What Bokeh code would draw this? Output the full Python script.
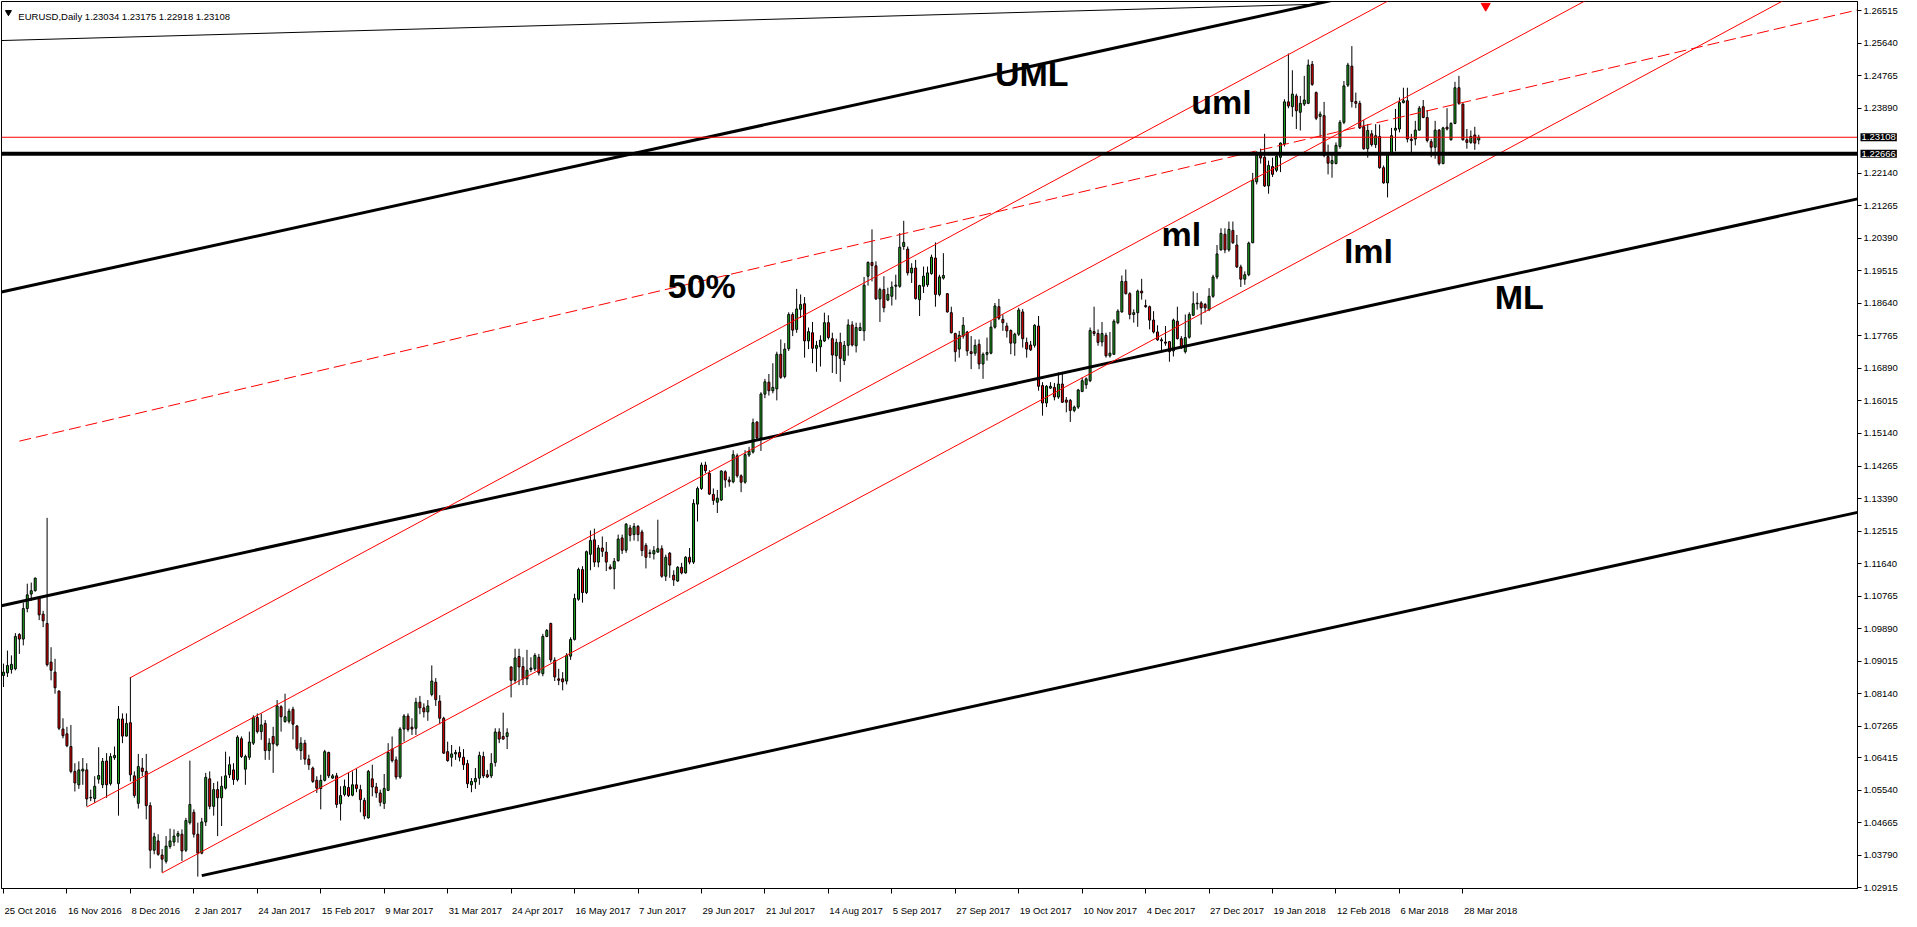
from bokeh.plotting import figure
from bokeh.models import Range1d, FixedTicker, PrintfTickFormatter, Label, LinearAxis, ColumnDataSource
from bokeh.core.properties import value
from bokeh.embed import file_html
from bokeh.resources import INLINE

# ---------------- data (EURUSD daily, bar index 0 = 25 Oct 2016) ----------------
opens = [1.0863,1.0870,1.0879,1.0881,1.0973,1.0961,1.1043,1.1082,1.1091,1.1071,
 1.1028,1.1003,1.0899,1.0872,1.0821,1.0719,1.0706,1.0672,1.0605,1.0569,
 1.0606,1.0609,1.0534,1.0532,1.0584,1.0569,1.0633,1.0572,1.0642,1.0572,
 1.0746,1.0700,1.0736,1.0593,1.0519,1.0614,1.0605,1.0513,1.0393,1.0418,
 1.0380,1.0363,1.0403,1.0415,1.0431,1.0436,1.0393,1.0467,1.0495,1.0436,
 1.0385,1.0469,1.0585,1.0511,1.0556,1.0534,1.0560,1.0596,1.0609,1.0583,
 1.0693,1.0611,1.0643,1.0681,1.0750,1.0712,1.0734,1.0661,1.0699,1.0676,
 1.0779,1.0739,1.0740,1.0772,1.0727,1.0661,1.0681,1.0638,1.0614,1.0581,
 1.0559,1.0581,1.0656,1.0587,1.0593,1.0518,1.0543,1.0562,1.0541,1.0569,
 1.0556,1.0527,1.0480,1.0585,1.0563,1.0547,1.0519,1.0554,1.0665,1.0636,
 1.0590,1.0719,1.0754,1.0724,1.0721,1.0791,1.0776,1.0765,1.0812,1.0845,
 1.0794,1.0748,1.0658,1.0643,1.0652,1.0656,1.0643,1.0626,1.0569,1.0577,
 1.0587,1.0645,1.0596,1.0593,1.0629,1.0711,1.0699,1.0699,1.0886,1.0850,
 1.0914,1.0887,1.0854,1.0879,1.0881,1.0912,1.0868,1.0968,1.1003,1.0904,
 1.0854,1.0854,1.0848,1.0915,1.0960,1.1068,1.1148,1.1086,1.1189,1.1228,
 1.1168,1.1206,1.1195,1.1155,1.1150,1.1172,1.1233,1.1200,1.1260,1.1242,
 1.1264,1.1249,1.1213,1.1191,1.1190,1.1195,1.1204,1.1130,1.1192,1.1133,
 1.1117,1.1154,1.1139,1.1181,1.1168,1.1324,1.1366,1.1429,1.1407,1.1350,
 1.1329,1.1335,1.1411,1.1389,1.1384,1.1454,1.1400,1.1383,1.1456,1.1464,
 1.1545,1.1502,1.1620,1.1652,1.1629,1.1634,1.1727,1.1667,1.1742,1.1834,
 1.1794,1.1848,1.1863,1.1763,1.1785,1.1743,1.1747,1.1763,1.1812,1.1769,
 1.1723,1.1759,1.1710,1.1751,1.1806,1.1750,1.1791,1.1790,1.1937,1.1974,
 1.1965,1.1876,1.1901,1.1873,1.1883,1.1910,1.1910,1.2017,1.2010,1.1946,
 1.1959,1.1874,1.1910,1.1914,1.1944,1.1986,1.1888,1.1932,1.1890,1.1839,
 1.1783,1.1741,1.1776,1.1787,1.1734,1.1730,1.1754,1.1701,1.1727,1.1730,
 1.1800,1.1855,1.1821,1.1803,1.1791,1.1757,1.1781,1.1841,1.1759,1.1752,
 1.1751,1.1803,1.1643,1.1596,1.1636,1.1638,1.1612,1.1647,1.1604,1.1603,
 1.1576,1.1585,1.1627,1.1645,1.1656,1.1788,1.1783,1.1760,1.1778,1.1723,
 1.1727,1.1812,1.1841,1.1923,1.1890,1.1834,1.1839,1.1897,1.1858,1.1855,
 1.1819,1.1787,1.1766,1.1760,1.1761,1.1736,1.1816,1.1769,1.1734,1.1773,
 1.1832,1.1863,1.1865,1.1861,1.1847,1.1883,1.1935,1.2008,1.2050,1.2008,
 1.2060,1.2021,1.1962,1.1929,1.1941,1.2027,1.2191,1.2262,1.2257,1.2180,
 1.2232,1.2222,1.2257,1.2293,1.2406,1.2393,1.2422,1.2378,1.2400,1.2402,
 1.2507,1.2431,1.2367,1.2369,1.2259,1.2240,1.2240,1.2286,1.2351,1.2451,
 1.2502,1.2407,1.2402,1.2339,1.2280,1.2320,1.2291,1.2313,1.2229,1.2188,
 1.2266,1.2330,1.2333,1.2404,1.2409,1.2306,1.2306,1.2330,1.2393,1.2364,
 1.2299,1.2284,1.2330,1.2240,1.2338,1.2304,1.2348,1.2444,1.2400,1.2304,
 1.2297,1.2317,1.23034]

highs = [1.0895,1.0930,1.0917,1.0977,1.0977,1.1059,1.1110,1.1113,1.1126,1.1073,
 1.1037,1.1287,1.0939,1.0908,1.0823,1.0748,1.0725,1.0730,1.0627,1.0632,
 1.0641,1.0627,1.0556,1.0592,1.0670,1.0641,1.0654,1.0654,1.0672,1.0781,
 1.0761,1.0761,1.0859,1.0605,1.0652,1.0641,1.0652,1.0522,1.0440,1.0436,
 1.0396,1.0431,1.0451,1.0449,1.0445,1.0449,1.0480,1.0634,1.0503,1.0467,
 1.0480,1.0601,1.0605,1.0574,1.0578,1.0592,1.0658,1.0645,1.0627,1.0702,
 1.0699,1.0650,1.0712,1.0756,1.0761,1.0761,1.0743,1.0694,1.0725,1.0797,
 1.0783,1.0814,1.0774,1.0779,1.0730,1.0697,1.0690,1.0650,1.0618,1.0592,
 1.0596,1.0663,1.0658,1.0598,1.0601,1.0565,1.0583,1.0601,1.0605,1.0612,
 1.0569,1.0534,1.0609,1.0623,1.0574,1.0556,1.0598,1.0681,1.0699,1.0645,
 1.0724,1.0759,1.0761,1.0748,1.0803,1.0808,1.0788,1.0797,1.0890,1.0856,
 1.0810,1.0752,1.0685,1.0676,1.0663,1.0672,1.0665,1.0636,1.0587,1.0614,
 1.0658,1.0658,1.0609,1.0654,1.0721,1.0721,1.0763,1.0721,1.0887,1.0935,
 1.0935,1.0912,1.0932,1.0912,1.0923,1.0921,1.0975,1.0988,1.1005,1.0912,
 1.0881,1.0872,1.0923,1.0966,1.1083,1.1153,1.1157,1.1199,1.1253,1.1258,
 1.1214,1.1237,1.1222,1.1162,1.1179,1.1242,1.1242,1.1273,1.1268,1.1273,
 1.1268,1.1255,1.1219,1.1202,1.1211,1.1282,1.1213,1.1188,1.1195,1.1146,
 1.1157,1.1166,1.1184,1.1206,1.1337,1.1371,1.1436,1.1438,1.1415,1.1366,
 1.1362,1.1415,1.1415,1.1398,1.1469,1.1460,1.1404,1.1469,1.1478,1.1554,
 1.1546,1.1625,1.1661,1.1674,1.1703,1.1734,1.1767,1.1757,1.1840,1.1840,
 1.1903,1.1888,1.1881,1.1799,1.1814,1.1763,1.1778,1.1839,1.1832,1.1785,
 1.1769,1.1785,1.1763,1.1821,1.1816,1.1812,1.1812,1.1935,1.1977,1.2063,
 1.1977,1.1906,1.1937,1.1906,1.1923,1.1941,1.2053,1.2086,1.2017,1.1972,
 1.1981,1.1914,1.1963,1.1963,1.1995,1.2028,1.1941,1.1999,1.1892,1.1855,
 1.1785,1.1790,1.1827,1.1790,1.1776,1.1767,1.1767,1.1732,1.1772,1.1816,
 1.1865,1.1876,1.1834,1.1812,1.1794,1.1785,1.1852,1.1849,1.1772,1.1763,
 1.1808,1.1830,1.1652,1.1644,1.1652,1.1650,1.1678,1.1674,1.1612,1.1607,
 1.1589,1.1634,1.1665,1.1665,1.1799,1.1855,1.1794,1.1814,1.1785,1.1787,
 1.1821,1.1848,1.1939,1.1955,1.1894,1.1848,1.1901,1.1930,1.1874,1.1858,
 1.1843,1.1805,1.1772,1.1803,1.1763,1.1823,1.1855,1.1776,1.1834,1.1840,
 1.1896,1.1892,1.1870,1.1865,1.1905,1.1941,1.2021,1.2066,1.2066,1.2084,
 1.2084,1.2048,1.1968,1.1950,1.2030,1.2215,1.2273,1.2280,1.2320,1.2248,
 1.2256,1.2271,1.2297,1.2413,1.2536,1.2491,1.2428,1.2422,1.2476,1.2520,
 1.2516,1.2434,1.2380,1.2406,1.2291,1.2271,1.2297,1.2357,1.2462,1.2511,
 1.2556,1.2431,1.2409,1.2357,1.2346,1.2330,1.2346,1.2345,1.2235,1.2271,
 1.2336,1.2387,1.2418,1.2444,1.2444,1.2320,1.2355,1.2395,1.2411,1.2384,
 1.2306,1.2355,1.2333,1.2339,1.2389,1.2351,1.2460,1.2476,1.2402,1.2333,
 1.2329,1.2339,1.23175]

lows = [1.0832,1.0859,1.0868,1.0877,1.0921,1.0944,1.1033,1.1064,1.1089,1.1012,
 1.0993,1.0887,1.0850,1.0814,1.0716,1.0694,1.0670,1.0600,1.0551,1.0558,
 1.0569,1.0511,1.0525,1.0520,1.0572,1.0560,1.0534,1.0567,1.0636,1.0486,
 1.0681,1.0699,1.0578,1.0534,1.0505,1.0592,1.0476,1.0344,1.0382,1.0378,
 1.0333,1.0357,1.0397,1.0404,1.0413,1.0364,1.0388,1.0462,1.0427,1.0322,
 1.0382,1.0458,1.0503,1.0486,1.0431,1.0458,1.0556,1.0587,1.0569,1.0578,
 1.0641,1.0569,1.0636,1.0676,1.0707,1.0690,1.0636,1.0636,1.0601,1.0672,
 1.0712,1.0736,1.0734,1.0691,1.0661,1.0636,1.0623,1.0609,1.0574,1.0547,
 1.0503,1.0578,1.0587,1.0585,1.0507,1.0473,1.0538,1.0536,1.0538,1.0549,
 1.0495,1.0476,1.0478,1.0538,1.0534,1.0511,1.0504,1.0552,1.0629,1.0583,
 1.0585,1.0685,1.0712,1.0703,1.0703,1.0759,1.0750,1.0741,1.0807,1.0781,
 1.0732,1.0652,1.0631,1.0618,1.0636,1.0632,1.0609,1.0560,1.0549,1.0558,
 1.0569,1.0587,1.0587,1.0587,1.0618,1.0681,1.0690,1.0665,1.0804,1.0841,
 1.0837,1.0837,1.0837,1.0872,1.0875,1.0863,1.0861,1.0966,1.0898,1.0848,
 1.0837,1.0823,1.0839,1.0905,1.0957,1.1064,1.1059,1.1082,1.1146,1.1155,
 1.1154,1.1182,1.1144,1.1148,1.1095,1.1169,1.1190,1.1193,1.1224,1.1226,
 1.1224,1.1184,1.1151,1.1179,1.1175,1.1193,1.1126,1.1117,1.1126,1.1104,
 1.1115,1.1135,1.1137,1.1162,1.1163,1.1277,1.1362,1.1407,1.1349,1.1322,
 1.1300,1.1333,1.1368,1.1371,1.1380,1.1395,1.1356,1.1379,1.1451,1.1460,
 1.1498,1.1467,1.1609,1.1616,1.1622,1.1603,1.1661,1.1662,1.1736,1.1776,
 1.1785,1.1825,1.1718,1.1741,1.1703,1.1680,1.1694,1.1760,1.1767,1.1677,
 1.1674,1.1653,1.1698,1.1723,1.1748,1.1732,1.1790,1.1763,1.1912,1.1923,
 1.1873,1.1814,1.1840,1.1870,1.1858,1.1874,1.1906,1.2008,1.1939,1.1919,
 1.1874,1.1830,1.1892,1.1908,1.1941,1.1855,1.1883,1.1928,1.1839,1.1783,
 1.1707,1.1718,1.1769,1.1723,1.1687,1.1723,1.1687,1.1661,1.1710,1.1727,
 1.1796,1.1819,1.1790,1.1772,1.1727,1.1723,1.1776,1.1745,1.1718,1.1736,
 1.1745,1.1629,1.1562,1.1585,1.1634,1.1603,1.1607,1.1596,1.1571,1.1545,
 1.1571,1.1580,1.1625,1.1634,1.1652,1.1776,1.1750,1.1748,1.1718,1.1718,
 1.1725,1.1808,1.1839,1.1888,1.1821,1.1812,1.1801,1.1874,1.1852,1.1794,
 1.1783,1.1763,1.1732,1.1750,1.1707,1.1721,1.1767,1.1741,1.1729,1.1769,
 1.1830,1.1847,1.1807,1.1839,1.1843,1.1879,1.1929,1.2006,1.1999,1.2003,
 1.2024,1.1959,1.1908,1.1914,1.1937,1.2026,1.2184,1.2240,1.2177,1.2159,
 1.2204,1.2217,1.2217,1.2286,1.2389,1.2366,1.2333,1.2329,1.2395,1.2400,
 1.2449,1.2357,1.2311,1.2257,1.2211,1.2202,1.2238,1.2280,1.2346,1.2446,
 1.2391,1.2389,1.2333,1.2277,1.2256,1.2286,1.2282,1.2226,1.2186,1.2149,
 1.2264,1.2273,1.2324,1.2402,1.2297,1.2271,1.2289,1.2329,1.2362,1.2297,
 1.2257,1.2253,1.2235,1.2238,1.2329,1.2302,1.2346,1.2398,1.2302,1.2280,
 1.2293,1.2277,1.22918]

closes = [1.0872,1.0890,1.0893,1.0968,1.0961,1.1043,1.1080,1.1091,1.1125,1.1026,
 1.1010,1.0892,1.0877,1.0830,1.0721,1.0701,1.0674,1.0605,1.0574,1.0609,
 1.0611,1.0531,1.0535,1.0565,1.0594,1.0632,1.0569,1.0645,1.0648,1.0746,
 1.0700,1.0734,1.0596,1.0540,1.0618,1.0605,1.0513,1.0393,1.0429,1.0382,
 1.0369,1.0404,1.0418,1.0431,1.0438,1.0391,1.0473,1.0516,1.0436,1.0385,
 1.0469,1.0589,1.0511,1.0556,1.0534,1.0565,1.0593,1.0623,1.0583,1.0697,
 1.0645,1.0645,1.0684,1.0750,1.0712,1.0730,1.0661,1.0681,1.0679,1.0781,
 1.0752,1.0752,1.0767,1.0732,1.0667,1.0681,1.0638,1.0623,1.0578,1.0560,
 1.0581,1.0658,1.0593,1.0593,1.0516,1.0540,1.0565,1.0540,1.0569,1.0559,
 1.0529,1.0485,1.0605,1.0563,1.0547,1.0522,1.0559,1.0656,1.0634,1.0590,
 1.0719,1.0754,1.0718,1.0719,1.0791,1.0776,1.0765,1.0781,1.0848,1.0798,
 1.0748,1.0654,1.0634,1.0652,1.0656,1.0643,1.0623,1.0572,1.0578,1.0586,
 1.0648,1.0593,1.0590,1.0626,1.0711,1.0692,1.0692,1.0709,1.0850,1.0910,
 1.0886,1.0854,1.0877,1.0883,1.0917,1.0870,1.0968,1.0984,1.0905,1.0859,
 1.0850,1.0846,1.0917,1.0960,1.1070,1.1148,1.1086,1.1196,1.1226,1.1168,
 1.1206,1.1197,1.1168,1.1150,1.1170,1.1230,1.1200,1.1270,1.1240,1.1264,
 1.1242,1.1199,1.1181,1.1193,1.1199,1.1204,1.1130,1.1181,1.1160,1.1120,
 1.1154,1.1139,1.1181,1.1168,1.1326,1.1366,1.1429,1.1414,1.1351,1.1334,
 1.1340,1.1413,1.1389,1.1384,1.1457,1.1400,1.1383,1.1457,1.1466,1.1543,
 1.1502,1.1620,1.1653,1.1629,1.1638,1.1727,1.1665,1.1741,1.1834,1.1792,
 1.1849,1.1861,1.1763,1.1788,1.1743,1.1751,1.1765,1.1812,1.1772,1.1725,
 1.1759,1.1716,1.1751,1.1806,1.1752,1.1799,1.1799,1.1913,1.1974,1.1966,
 1.1876,1.1901,1.1852,1.1888,1.1908,1.1913,1.2015,1.2028,1.1946,1.1959,
 1.1877,1.1912,1.1937,1.1946,1.1988,1.1888,1.1935,1.1939,1.1841,1.1785,
 1.1734,1.1778,1.1805,1.1736,1.1729,1.1751,1.1701,1.1727,1.1732,1.1800,
 1.1857,1.1824,1.1812,1.1790,1.1757,1.1781,1.1846,1.1769,1.1741,1.1739,
 1.1805,1.1641,1.1596,1.1641,1.1641,1.1612,1.1647,1.1598,1.1598,1.1576,
 1.1585,1.1631,1.1656,1.1661,1.1791,1.1783,1.1759,1.1783,1.1723,1.1730,
 1.1816,1.1843,1.1923,1.1890,1.1834,1.1839,1.1897,1.1892,1.1855,1.1819,
 1.1787,1.1766,1.1763,1.1757,1.1734,1.1819,1.1769,1.1745,1.1772,1.1834,
 1.1863,1.1865,1.1852,1.1852,1.1883,1.1935,1.1997,1.2052,1.2008,1.2063,
 1.2027,1.1962,1.1929,1.1941,1.2026,1.2195,1.2262,1.2255,1.2180,1.2235,
 1.2211,1.2260,1.2295,1.2406,1.2395,1.2427,1.2382,1.2402,1.2411,1.2505,
 1.2453,1.2362,1.2373,1.2262,1.2241,1.2248,1.2289,1.2351,1.2449,1.2505,
 1.2407,1.2402,1.2336,1.2280,1.2329,1.2291,1.2315,1.2229,1.2188,1.2266,
 1.2315,1.2335,1.2404,1.2409,1.2306,1.2302,1.2330,1.2389,1.2364,1.2302,
 1.2284,1.2330,1.2240,1.2336,1.2333,1.2348,1.2444,1.2402,1.2304,1.2297,
 1.2313,1.2295,1.23108]

xtick_idx = list(range(0, 369, 16))
xtick_labels = ["25 Oct 2016", "16 Nov 2016", "8 Dec 2016", "2 Jan 2017", "24 Jan 2017",
                "15 Feb 2017", "9 Mar 2017", "31 Mar 2017", "24 Apr 2017", "16 May 2017",
                "7 Jun 2017", "29 Jun 2017", "21 Jul 2017", "14 Aug 2017", "5 Sep 2017",
                "27 Sep 2017", "19 Oct 2017", "10 Nov 2017", "4 Dec 2017", "27 Dec 2017",
                "19 Jan 2018", "12 Feb 2018", "6 Mar 2018", "28 Mar 2018"]
ytick_vals = [1.26515, 1.25640, 1.24765, 1.23890, 1.22140, 1.21265, 1.20390, 1.19515,
              1.18640, 1.17765, 1.16890, 1.16015, 1.15140, 1.14265, 1.13390, 1.12515,
              1.11640, 1.10765, 1.09890, 1.09015, 1.08140, 1.07265, 1.06415, 1.05540,
              1.04665, 1.03790, 1.02915]

# drawn objects (bar index, price)
black_ml_x, black_ml_y = [-0.5, 467.5], [1.10507, 1.21451]
black_uml_x, black_uml_y = [-0.5, 467.5], [1.18945, 1.29889]
black_lml_x, black_lml_y = [50, 467.5], [1.03247, 1.13018]
thin_top_x, thin_top_y = [-0.5, 329.0], [1.2571, 1.2668]
red_uml_x, red_uml_y = [32, 467.5], [1.08572, 1.33570]
red_ml_x, red_ml_y = [21, 467.5], [1.05091, 1.30720]
red_lml_x, red_lml_y = [40, 467.5], [1.03319, 1.27858]
half_x, half_y = [4, 467.5], [1.14934, 1.26533]
bid_price = 1.23108
hline_price = 1.22666

label_text = ["UML", "uml", "ml", "lml", "ML", "50%"]
label_x = [250.0, 299.5, 292.0, 338.0, 376.0, 167.5]
label_y = [1.24816, 1.24063, 1.20508, 1.20055, 1.18807, 1.19101]

title_text = "EURUSD,Daily  1.23034 1.23175 1.22918 1.23108"

# ---------------- figure ----------------
FONT = "Liberation Sans"
FW, FH = 1856, 887
Y0, Y1 = 1.0290, 1.2676
p = figure(frame_width=FW, frame_height=FH, output_backend="svg", toolbar_location=None,
           x_range=Range1d(-0.5, 467.5), y_range=Range1d(Y0, Y1),
           x_axis_location="below", y_axis_location="right",
           min_border_left=1, min_border_top=1, min_border_right=0, min_border_bottom=0)
p.background_fill_color = "white"
p.border_fill_color = "white"
p.outline_line_color = "black"
p.outline_line_width = 1
p.grid.visible = False

# x axis 1: tick marks only
p.xaxis.ticker = FixedTicker(ticks=xtick_idx)
p.xaxis.major_label_overrides = {i: " " for i in xtick_idx}
p.xaxis.major_label_text_font_size = "1px"
p.xaxis.major_label_standoff = 0
p.xaxis.minor_tick_line_color = None
p.xaxis.major_tick_out = 5
p.xaxis.major_tick_in = 0
p.xaxis.axis_line_color = "black"
p.xaxis.major_tick_line_color = "black"

# x axis 2: date labels, shifted so each label starts at its tick (MT4 style)
W = {' ': 278, 'O': 778, 'c': 500, 't': 278, 'N': 722, 'o': 556, 'v': 500, 'D': 722,
     'e': 556, 'J': 500, 'a': 556, 'n': 556, 'F': 611, 'b': 556, 'M': 833, 'r': 333,
     'A': 667, 'p': 556, 'y': 500, 'u': 556, 'l': 222, 'S': 667, 'g': 556}
px_per_bar = FW / 468.0
def text_w(s, size=9.5):
    return sum(W.get(ch, 556) for ch in s) / 1000.0 * size
shifted = [i + (text_w(s) / 2 + 1) / px_per_bar for i, s in zip(xtick_idx, xtick_labels)]
ax2 = LinearAxis(ticker=FixedTicker(ticks=shifted),
                 major_label_overrides={t: s for t, s in zip(shifted, xtick_labels)},
                 major_tick_line_color=None, minor_tick_line_color=None,
                 axis_line_color=None, major_label_standoff=1,
                 major_label_text_font=FONT, major_label_text_font_size="9.5px",
                 major_label_text_color="black")
p.add_layout(ax2, "below")

p.yaxis.ticker = FixedTicker(ticks=ytick_vals)
p.yaxis.formatter = PrintfTickFormatter(format="%.5f")
p.yaxis.minor_tick_line_color = None
p.yaxis.major_tick_out = 4
p.yaxis.major_tick_in = 0
p.yaxis.major_label_standoff = 2
p.yaxis.major_label_text_font = FONT
p.yaxis.major_label_text_font_size = "9.5px"
p.yaxis.major_label_text_color = "black"
p.yaxis.axis_line_color = "black"
p.yaxis.major_tick_line_color = "black"

# candles
idx = list(range(len(opens)))
tops = [max(o, c) for o, c in zip(opens, closes)]
bots = [min(o, c) for o, c in zip(opens, closes)]
cols = ["#1ea81e" if c >= o else "#f00000" for o, c in zip(opens, closes)]
src = ColumnDataSource(dict(x=idx, h=highs, l=lows, top=tops, bottom=bots, color=cols))
p.segment(x0="x", y0="l", x1="x", y1="h", source=src, line_color="black", line_width=1)
p.vbar(x="x", top="top", bottom="bottom", width=0.5, fill_color="color",
       line_color="black", line_width=1, source=src)

# objects
p.line(thin_top_x, thin_top_y, line_color="black", line_width=1)
p.line(black_uml_x, black_uml_y, line_color="black", line_width=3)
p.line(black_ml_x, black_ml_y, line_color="black", line_width=3)
p.line(black_lml_x, black_lml_y, line_color="black", line_width=3)
p.line(red_uml_x, red_uml_y, line_color="#ff0000", line_width=1)
p.line(red_ml_x, red_ml_y, line_color="#ff0000", line_width=1)
p.line(red_lml_x, red_lml_y, line_color="#ff0000", line_width=1)
p.line(half_x, half_y, line_color="#ff0000", line_width=1, line_dash="12 5")
p.line([-0.5, 467.5], [bid_price, bid_price], line_color="#ff0000", line_width=1)
p.line([-0.5, 467.5], [hline_price, hline_price], line_color="black", line_width=4)

p.text(x=label_x, y=label_y, text=label_text, text_font=value(FONT),
       text_font_style="bold", text_font_size="34px", text_color="black",
       text_align="left", text_baseline="alphabetic")

# chart-shift marker and title
p.scatter([373.75], [1.2664], marker="inverted_triangle", size=9,
          fill_color="#ff0000", line_color="#ff0000")
p.scatter([1.25], [1.2647], marker="inverted_triangle", size=6,
          fill_color="black", line_color="black")
p.add_layout(Label(x=3.75, y=1.2636, text=title_text, text_font=FONT,
                   text_font_size="9.5px", text_color="black",
                   text_align="left", text_baseline="alphabetic"))

# price boxes on the right scale (placed in the right side panel so they are not clipped)
for pr in (bid_price, hline_price):
    p.add_layout(Label(x=467.5, y=pr, x_offset=3, text="%.5f" % pr, text_font=FONT,
                       text_font_size="9.5px", text_color="white", text_align="left",
                       text_baseline="middle", background_fill_color="black", padding=1),
                 "right")

open("out.html", "w").write(file_html(p, INLINE))
